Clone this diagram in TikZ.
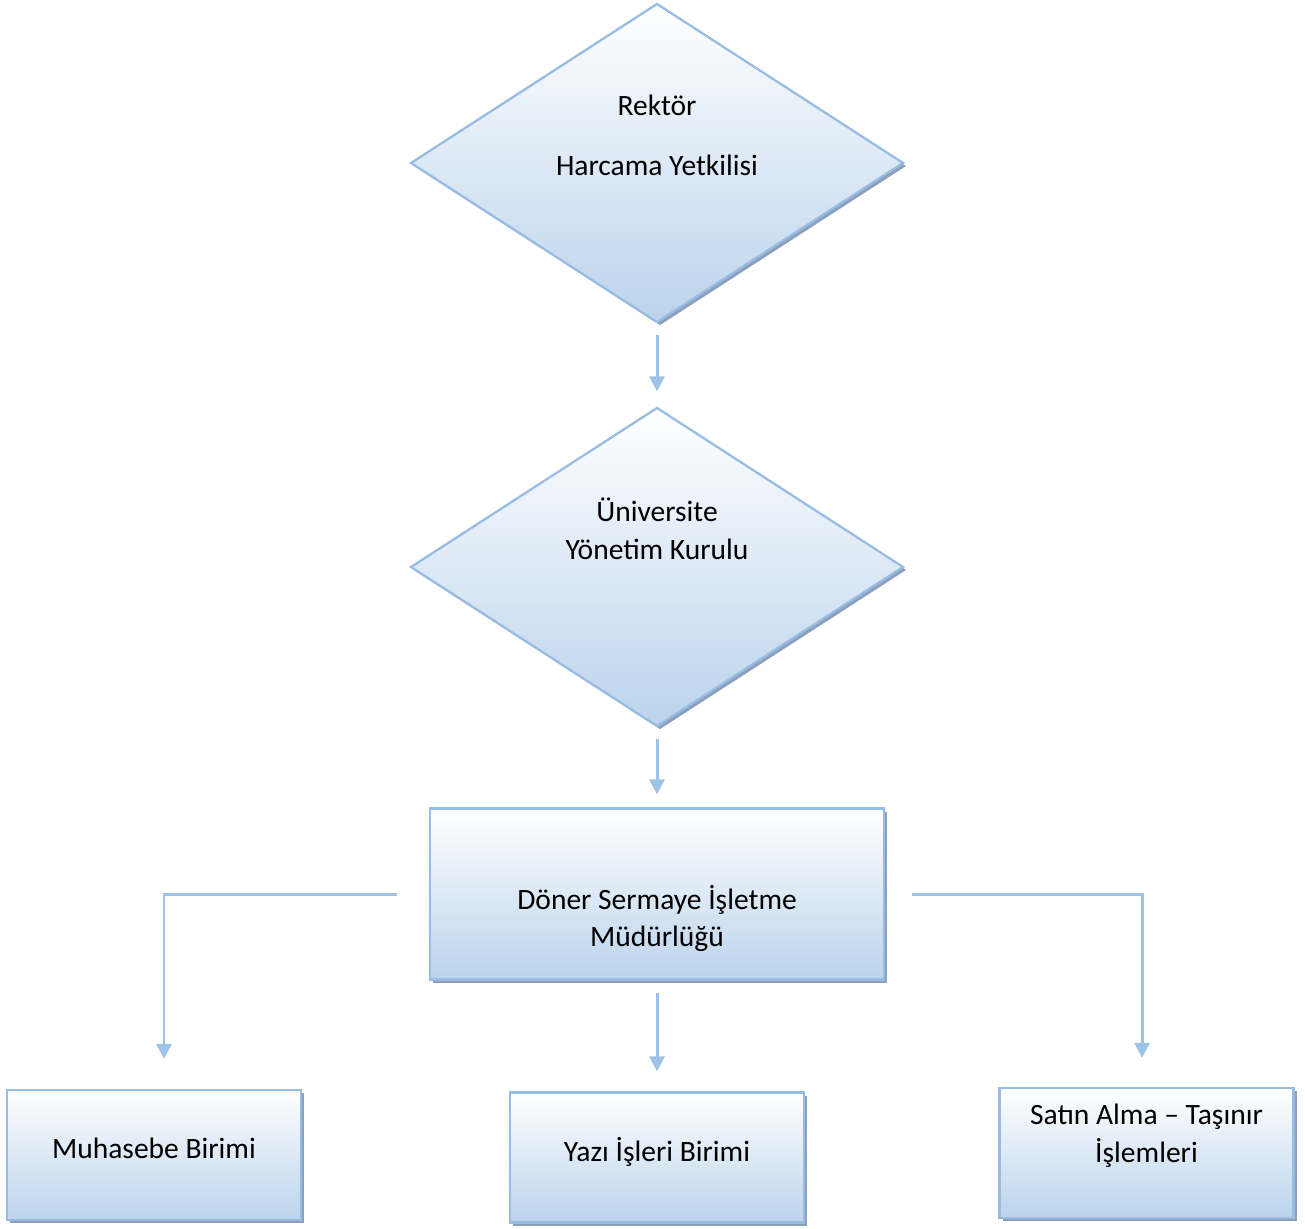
\documentclass[tikz,border=0pt]{standalone}
\usepackage{fontspec}
\setmainfont{Carlito}
\usetikzlibrary{shapes.geometric,shadows,arrows.meta}

\definecolor{edgeblue}{RGB}{152,188,226}
\definecolor{fillblue}{RGB}{187,211,236}
\definecolor{shadeblue}{RGB}{140,160,190}
\definecolor{arrowblue}{RGB}{157,195,230}

\tikzset{
	unitbox/.style={draw=edgeblue, line width=1.3pt, top color=white, bottom color=fillblue,
		drop shadow={shadow xshift=0.06cm, shadow yshift=-0.06cm, fill=shadeblue, opacity=1}},
	decide/.style={unitbox, diamond, inner sep=0pt, minimum width=9.86cm, minimum height=6.38cm},
	bigbox/.style={unitbox, rectangle, minimum width=9.08cm, minimum height=3.42cm},
	smallbox/.style={unitbox, rectangle, minimum width=5.88cm, minimum height=2.6cm},
	boxtext/.style={align=center, font=\fontsize{16.8}{21.5}\selectfont},
	flow/.style={draw=arrowblue, line width=1.7pt, -{Triangle[width=8.5pt,length=8.5pt]}}
}

\begin{document}
\begin{tikzpicture}
	\def\xmid{13.14} % Centre line of the chart
	
	\useasboundingbox (0,0) rectangle (26.1,-24.56);
	
	% Decision shapes
	\node[decide] (rektor) at (\xmid,-3.26) {};
	\node[decide] (kurul) at (\xmid,-11.34) {};
	\node[boxtext] (rektorTxt) at (\xmid,-2.7) {Rektör\\[12.5pt]Harcama Yetkilisi};
	\node[boxtext] (kurulTxt) at (\xmid,-10.58) {Üniversite\\Yönetim Kurulu};
	
	% Directorate
	\node[bigbox] (mudur) at (\xmid,-17.88) {};
	\node[boxtext] (mudurTxt) at (\xmid,-18.37) {Döner Sermaye İşletme\\Müdürlüğü};
	
	% Units
	\node[smallbox] (muhasebe) at (3.08,-23.1) {};
	\node[smallbox] (yazi) at (\xmid,-23.15) {};
	\node[smallbox] (satin) at (22.93,-23.06) {};
	\node[boxtext] (muhasebeTxt) at (3.08,-22.96) {Muhasebe Birimi};
	\node[boxtext] (yaziTxt) at (\xmid,-23.04) {Yazı İşleri Birimi};
	\node[boxtext] (satinTxt) at (22.93,-22.72) {Satın Alma – Taşınır\\İşlemleri};
	
	% Connectors
	\draw[flow, shorten <=0.22cm, shorten >=0.3cm] (rektor.south) -- (kurul.north);
	\draw[flow, shorten <=0.22cm, shorten >=0.26cm] (kurul.south) -- (mudur.north);
	\draw[flow, shorten <=0.24cm, shorten >=0.4cm] (mudur.south) -- (yazi.north);
	\draw[flow] ([xshift=-0.64cm]mudur.west) -| ([xshift=0.2cm, yshift=0.6cm]muhasebe.north);
	\draw[flow] ([xshift=0.54cm]mudur.east) -| ([xshift=-0.09cm, yshift=0.58cm]satin.north);
\end{tikzpicture}
\end{document}
